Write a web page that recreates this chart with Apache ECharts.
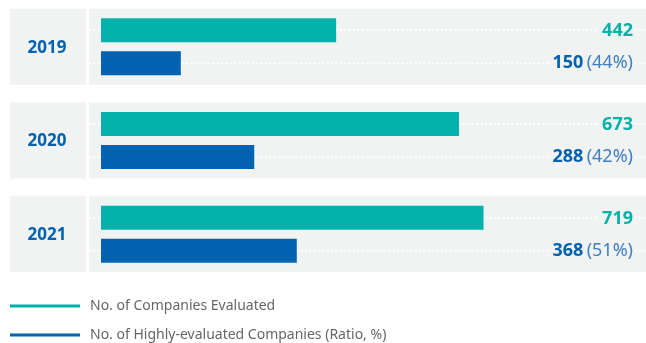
<!DOCTYPE html>
<html>
<head>
<meta charset="utf-8">
<script src="https://cdn.jsdelivr.net/npm/echarts@6/dist/echarts.min.js"></script>
<style>
  html, body { margin: 0; padding: 0; background: #ffffff; }
  #chart { width: 646px; height: 343px; }
</style>
</head>
<body>
<div id="chart"></div>
<script>
// Yearly evaluation results
var years = ['2019', '2020', '2021'];
var evaluated = [442, 673, 719];
var highlyEvaluated = [150, 288, 368];
var ratioPct = [44, 42, 51];
var seriesNames = ['No. of Companies Evaluated', 'No. of Highly-evaluated Companies (Ratio, %)'];

var TEAL = '#00b2a9';
var BLUE = '#0062b0';
var PANEL = '#f1f2f2';
var FONT = '"Noto Sans", sans-serif';

var BAR_W = 24;
var BAR_GAP = 9;
var PANEL_H = 76;

var chart = echarts.init(document.getElementById('chart'), null, { renderer: 'canvas' });

// Rows: category index plus the values used for the labels
var rows = years.map(function (y, i) {
  return [i, evaluated[i], highlyEvaluated[i], ratioPct[i]];
});

function renderRow(params, api) {
  var idx = api.value(0);
  var centre = api.coord([0, idx]);
  var right = api.coord([1000, idx])[0];
  var cy = centre[1];
  var off = (BAR_W + BAR_GAP) / 2;
  var yTop = cy - off;
  var yBot = cy + off;
  var chartW = api.getWidth();
  var leftX = 10, leftW = 76, rightX = 89;
  var dotStyle = { stroke: '#ffffff', lineWidth: 2, lineDash: [2, 2.4] };

  return {
    type: 'group',
    children: [
      { type: 'rect', shape: { x: leftX, y: cy - PANEL_H / 2, width: leftW, height: PANEL_H }, style: { fill: PANEL } },
      { type: 'rect', shape: { x: rightX, y: cy - PANEL_H / 2, width: chartW - rightX, height: PANEL_H }, style: { fill: PANEL } },
      { type: 'line', shape: { x1: rightX, y1: yTop, x2: chartW, y2: yTop }, style: dotStyle },
      { type: 'line', shape: { x1: rightX, y1: yBot, x2: chartW, y2: yBot }, style: dotStyle },
      {
        type: 'text',
        style: {
          text: years[idx], x: leftX + leftW / 2 - 1, y: cy + 1,
          align: 'center', verticalAlign: 'middle',
          font: 'bold 17px ' + FONT, fill: BLUE
        }
      },
      {
        type: 'text',
        style: {
          text: String(api.value(1)), x: right, y: yTop + 1,
          align: 'right', verticalAlign: 'middle',
          font: 'bold 18px ' + FONT, fill: TEAL,
          backgroundColor: PANEL, padding: [0, 0, 0, 3]
        }
      },
      {
        type: 'text',
        style: {
          text: '{b|' + api.value(2) + '} {p|(' + api.value(3) + '%)}',
          x: right, y: yBot,
          align: 'right', verticalAlign: 'middle',
          backgroundColor: PANEL, padding: [0, 0, 0, 3],
          rich: {
            b: { font: 'bold 18px ' + FONT, fill: BLUE },
            p: { font: '18px ' + FONT, fill: '#3f7fc2' }
          }
        }
      }
    ]
  };
}

function legendFor(name, top) {
  return {
    data: [name],
    orient: 'vertical',
    left: 10,
    top: top,
    padding: 0,
    itemWidth: 70,
    itemHeight: 3,
    icon: 'path://M0,0H70V3H0Z',
    textStyle: { fontFamily: FONT, fontSize: 14, color: '#666666', padding: [0, 0, 0, 5] },
    selectedMode: false
  };
}

chart.setOption({
  animation: false,
  backgroundColor: '#ffffff',
  grid: { left: 101, right: 13, top: -1.6, bottom: 61.9, containLabel: false },
  xAxis: { type: 'value', min: 0, max: 1000, show: false },
  yAxis: { type: 'category', data: years, inverse: true, show: false },
  legend: [legendFor(seriesNames[0], 299), legendFor(seriesNames[1], 328)],
  series: [
    {
      type: 'custom',
      renderItem: renderRow,
      data: rows,
      encode: { x: 1, y: 0 },
      z: 1,
      silent: true
    },
    {
      name: seriesNames[0],
      type: 'bar',
      data: evaluated,
      barWidth: BAR_W,
      barGap: (BAR_GAP / BAR_W * 100) + '%',
      itemStyle: { color: TEAL },
      z: 3
    },
    {
      name: seriesNames[1],
      type: 'bar',
      data: highlyEvaluated,
      barWidth: BAR_W,
      itemStyle: { color: BLUE },
      z: 3
    }
  ]
});
</script>
</body>
</html>
